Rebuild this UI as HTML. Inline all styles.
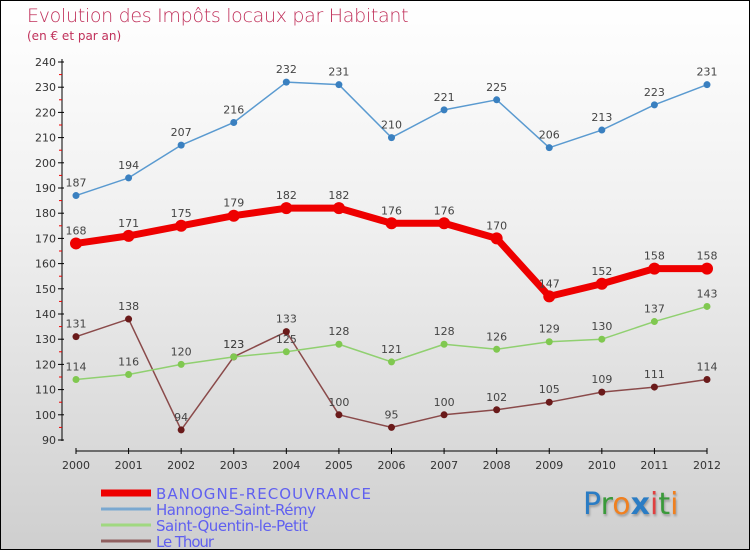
<!DOCTYPE html>
<html><head><meta charset="utf-8"><style>
body{margin:0}
#c{position:relative;width:748px;height:548px;border:1px solid #000;background:linear-gradient(#ffffff,#f0f0f0 40%,#cfcfcf);overflow:hidden;font-family:"DejaVu Sans","Liberation Sans",sans-serif}
.t{position:absolute;color:#c0305a}
</style></head><body>
<div id="c">
<div class="t" style="left:26px;top:4px;font-size:19px;font-weight:200;letter-spacing:-0.3px">Evolution des Impôts locaux par Habitant</div>
<div class="t" style="left:26px;top:28px;font-size:12px">(en € et par an)</div>
<svg id="s" width="748" height="548" style="position:absolute;left:0;top:0"></svg>
<div style="position:absolute;left:582px;top:486px;font-size:30px;font-family:'DejaVu Sans',sans-serif;text-shadow:1px 2px 2px #999"><span style="color:#2a7cc4">P</span><span style="color:#3a9a3a">r</span><span style="color:#f08020">o</span><span style="color:#2a7cc4;font-weight:bold">x</span><span style="color:#e04040">i</span><span style="color:#3a9a3a">t</span><span style="color:#f08020">i</span></div>
</div>
<script>
const years=[2000,2001,2002,2003,2004,2005,2006,2007,2008,2009,2010,2011,2012];
const banogne=[168,171,175,179,182,182,176,176,170,147,152,158,158];
const hannogne=[187,194,207,216,232,231,210,221,225,206,213,223,231];
const saintQuentin=[114,116,120,123,125,128,121,128,126,129,130,137,143];
const leThour=[131,138,94,123,133,100,95,100,102,105,109,111,114];
const yTicks=[90,100,110,120,130,140,150,160,170,180,190,200,210,220,230,240];
const seriesNames=["BANOGNE-RECOUVRANCE","Hannogne-Saint-Rémy","Saint-Quentin-le-Petit","Le Thour"];
const NS="http://www.w3.org/2000/svg",s=document.getElementById('s');
const X=i=>75+i*(706-75)/12, Y=v=>439-(v-90)*(378/150);
function el(t,a,p){const e=document.createElementNS(NS,t);for(const k in a)e.setAttribute(k,a[k]);(p||s).appendChild(e);return e;}
function tx(x,y,str,anchor,size,fill){const e=el('text',{x:x,y:y,'text-anchor':anchor,'font-size':size,fill:fill,'font-family':'DejaVu Sans,Liberation Sans,sans-serif'});e.textContent=str;return e;}
// axes
let a=el('line',{x1:61,y1:58,x2:61,y2:440,stroke:'#000','stroke-width':1});
yTicks.forEach(v=>{el('line',{x1:57,x2:63,y1:Y(v),y2:Y(v),stroke:'#000'});if(v<240)el('line',{x1:58,x2:61,y1:Y(v+5),y2:Y(v+5),stroke:'#e00'});
 const t=tx(55,Y(v)+4,v,'end',11,'#333');});
let b=el('line',{x1:75,y1:450,x2:706,y2:450,stroke:'#000'});
years.forEach((y,i)=>{el('line',{x1:X(i),x2:X(i),y1:447,y2:453,stroke:'#000'});const t=tx(X(i),468,y,'middle',11,'#333');});
function series(d,col,lw,r,name,dc){const g=el('g',{});
 el('polyline',{points:d.map((v,i)=>X(i)+','+Y(v)).join(' '),fill:'none',stroke:col,'stroke-width':lw,'stroke-linejoin':'round'},g);
 d.forEach((v,i)=>{const c=el('circle',{cx:X(i),cy:Y(v),r:r,fill:dc||col},g);
  tx(X(i),Y(v)-9,v,'middle',11,'#444',g);});}
series(leThour,'#8a4a4a',1.5,3.5,'le-thour','#6a1a1a');
series(saintQuentin,'#90d070',1.5,3.5,'saint-quentin','#80c850');
series(hannogne,'#5a9ad0',1.5,3.5,'hannogne','#3a80c0');
series(banogne,'#ee0000',7,6,'banogne');
const lc=['#ee0000','#7aa8d0','#a0d880','#906060'],lw=[7,3,3,3];
seriesNames.forEach((n,i)=>{const y=492+i*16;const g=el('g',{});
 el('line',{x1:100,x2:150,y1:y,y2:y,stroke:lc[i],'stroke-width':lw[i]},g);tx(155,y+6,n,'start',15,'#6060f0',g).setAttribute('textLength',i==0?215:(i==1?160:(i==2?152:58)));});
</script>
</body></html>
